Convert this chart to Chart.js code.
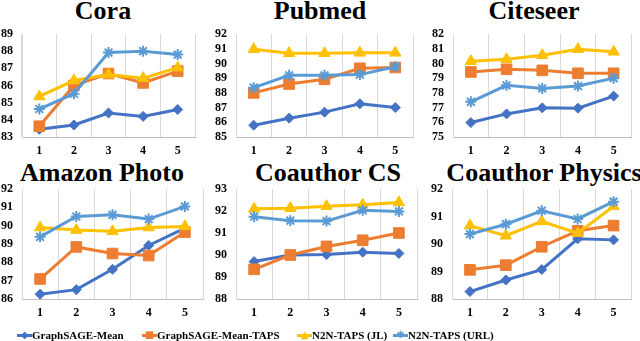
<!DOCTYPE html>
<html>
<head>
<meta charset="utf-8">
<script src="https://cdn.jsdelivr.net/npm/chart.js@4/dist/chart.umd.min.js"></script>
<style>
body { margin: 0; background: #fff; }
#wrap { position: relative; width: 640px; height: 341px; overflow: hidden; font-family: "Liberation Serif", "Times New Roman", serif; }
.ttl { position: absolute; width: 300px; text-align: center; font-weight: bold; font-size: 26px; line-height: 26px; color: #000; white-space: nowrap; }
.cv { position: absolute; }
.leg { position: absolute; top: 328px; height: 14px; font-weight: bold; font-size: 11px; line-height: 14px; white-space: nowrap; color: #000; }
.leg .ln { position: absolute; left: 0; top: 6px; width: 15px; height: 3px; }
.leg .mk { position: absolute; left: 0; width: 15px; top: 0; text-align: center; font-family: "DejaVu Sans", sans-serif; font-size: 10px; line-height: 14px; }
.leg .tx { position: absolute; left: 15px; top: 0; }
</style>
</head>
<body>
<div id="wrap">
  <div class="ttl" style="left:-47px;top:-2px">Cora</div>
  <div class="ttl" style="left:170px;top:-2px">Pubmed</div>
  <div class="ttl" style="left:384px;top:-2px">Citeseer</div>
  <div class="ttl" style="left:-48px;top:160px">Amazon Photo</div>
  <div class="ttl" style="left:178px;top:160px">Coauthor CS</div>
  <div class="ttl" style="left:394px;top:160px">Coauthor Physics</div>

  <canvas class="cv" id="c1" style="left:0;top:0" width="213" height="160"></canvas>
  <canvas class="cv" id="c2" style="left:213px;top:0" width="213" height="160"></canvas>
  <canvas class="cv" id="c3" style="left:426px;top:0" width="214" height="160"></canvas>
  <canvas class="cv" id="c4" style="left:0;top:155px" width="213" height="167"></canvas>
  <canvas class="cv" id="c5" style="left:213px;top:155px" width="213" height="167"></canvas>
  <canvas class="cv" id="c6" style="left:426px;top:155px" width="214" height="167"></canvas>

  <div class="leg" style="left:17px"><span class="ln" style="background:#4472C4"></span><span class="mk" style="color:#4472C4">&#9670;</span><span class="tx">GraphSAGE-Mean</span></div>
  <div class="leg" style="left:142px"><span class="ln" style="background:#ED7D31"></span><span class="mk" style="color:#ED7D31">&#9632;</span><span class="tx">GraphSAGE-Mean-TAPS</span></div>
  <div class="leg" style="left:297px"><span class="ln" style="background:#FFC000"></span><span class="mk" style="color:#FFC000">&#9650;</span><span class="tx">N2N-TAPS (JL)</span></div>
  <div class="leg" style="left:393px"><span class="ln" style="background:#5B9BD5"></span><span class="mk" style="color:#5B9BD5">&#10033;</span><span class="tx">N2N-TAPS (URL)</span></div>
</div>
<script>
// categorias (eje x)
const labels = ['1', '2', '3', '4', '5'];
const seriesNames = ['GraphSAGE-Mean', 'GraphSAGE-Mean-TAPS', 'N2N-TAPS (JL)', 'N2N-TAPS (URL)'];

// Cora
const coraMean = [83.45, 83.7, 84.4, 84.2, 84.6];
const coraTaps = [83.63, 86.0, 86.7, 86.15, 86.84];
const coraJL   = [85.36, 86.29, 86.64, 86.43, 87.04];
const coraURL  = [84.63, 85.52, 87.92, 88.0, 87.8];

// Pubmed
const pubmedMean = [85.8, 86.28, 86.69, 87.26, 87.0];
const pubmedTaps = [88.0, 88.6, 88.92, 89.67, 89.72];
const pubmedJL   = [90.97, 90.69, 90.69, 90.72, 90.72];
const pubmedURL  = [88.35, 89.19, 89.19, 89.24, 89.78];

// Citeseer
const citeseerMean = [75.98, 76.57, 76.98, 76.96, 77.78];
const citeseerTaps = [79.42, 79.6, 79.53, 79.33, 79.33];
const citeseerJL   = [80.15, 80.28, 80.56, 80.97, 80.79];
const citeseerURL  = [77.39, 78.51, 78.3, 78.46, 79.0];

// Amazon Photo
const photoMean = [86.26, 86.51, 87.62, 88.92, 89.87];
const photoTaps = [87.09, 88.84, 88.48, 88.37, 89.65];
const photoJL   = [89.9, 89.76, 89.69, 89.9, 89.96];
const photoURL  = [89.39, 90.5, 90.59, 90.36, 91.05];

// Coauthor CS
const csMean = [89.7, 90.0, 90.02, 90.13, 90.07];
const csTaps = [89.35, 90.0, 90.39, 90.67, 91.0];
const csJL   = [92.1, 92.13, 92.22, 92.28, 92.39];
const csURL  = [91.74, 91.56, 91.54, 92.03, 91.98];

// Coauthor Physics
const physMean = [88.27, 88.69, 89.07, 90.19, 90.15];
const physTaps = [89.06, 89.23, 89.9, 90.48, 90.67];
const physJL   = [90.67, 90.3, 90.82, 90.39, 91.37];
const physURL  = [90.36, 90.72, 91.21, 90.91, 91.54];

// estilos de cada serie
const colors = ['#4472C4', '#ED7D31', '#FFC000', '#5B9BD5'];
const markers = ['rectRot', 'rect', 'triangle', 'star'];
const radii = [5, 7.5, 6.5, 5.5];

const tickFont = { family: '"Liberation Serif", "Times New Roman", serif', size: 12, weight: 'bold' };

function makeChart(id, data, yMin, yMax, axisLeft, padRight) {
  const datasets = data.map(function (values, i) {
    return {
      label: seriesNames[i],
      data: values,
      borderColor: colors[i],
      backgroundColor: colors[i],
      borderWidth: 3,
      pointStyle: markers[i],
      pointRadius: radii[i],
      pointBorderColor: colors[i],
      pointBackgroundColor: colors[i],
      pointBorderWidth: i === 3 ? 2 : 1,
      tension: 0,
      order: 3 - i
    };
  });
  return new Chart(document.getElementById(id), {
    type: 'line',
    data: { labels: labels, datasets: datasets },
    options: {
      responsive: false,
      animation: false,
      layout: { padding: { top: 34, right: padRight, left: 0, bottom: 0 } },
      plugins: { legend: { display: false }, tooltip: { enabled: false } },
      scales: {
        x: {
          offset: true,
          grid: {
            offset: true,
            drawTicks: false,
            color: function (c) { return c.index === 5 ? 'rgba(0,0,0,0)' : '#d9d9d9'; }
          },
          border: { color: '#bfbfbf', width: 1 },
          ticks: { color: '#000', font: tickFont, padding: 7 },
          afterFit: function (s) { s.height = 23; }
        },
        y: {
          min: yMin,
          max: yMax,
          grid: { display: false, drawTicks: false },
          border: { color: '#d9d9d9', width: 1 },
          ticks: { stepSize: 1, autoSkip: false, color: '#000', font: tickFont, padding: 9 },
          afterFit: function (s) { s.width = axisLeft; }
        }
      }
    }
  });
}

makeChart('c1', [coraMean, coraTaps, coraJL, coraURL], 83, 89, 22, 18);
makeChart('c2', [pubmedMean, pubmedTaps, pubmedJL, pubmedURL], 85, 92, 23, 13);
makeChart('c3', [citeseerMean, citeseerTaps, citeseerJL, citeseerURL], 75, 82, 27, 7);
makeChart('c4', [photoMean, photoTaps, photoJL, photoURL], 86, 92, 22, 10);
makeChart('c5', [csMean, csTaps, csJL, csURL], 88, 93, 23, 9);
makeChart('c6', [physMean, physTaps, physJL, physURL], 88, 92, 26, 5);
</script>
</body>
</html>
